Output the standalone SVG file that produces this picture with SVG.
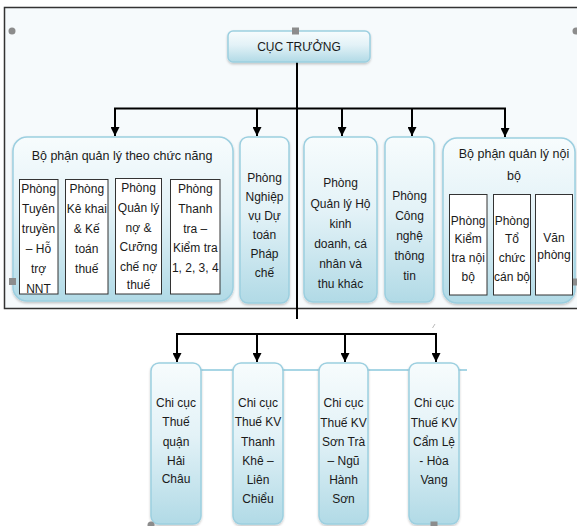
<svg xmlns="http://www.w3.org/2000/svg" width="577" height="526" viewBox="0 0 577 526">
<defs>
<linearGradient id="bg" x1="0" y1="0" x2="0" y2="1">
<stop offset="0" stop-color="#f7fcfd"/>
<stop offset="0.45" stop-color="#e3f2f7"/>
<stop offset="1" stop-color="#b1dae6"/>
</linearGradient>
<filter id="sh" x="-20%" y="-20%" width="140%" height="140%">
<feDropShadow dx="0" dy="1.5" stdDeviation="1.2" flood-color="#000" flood-opacity="0.22"/>
</filter>
<marker id="ah" viewBox="0 0 10 10" refX="10" refY="5" markerWidth="9" markerHeight="9" markerUnits="userSpaceOnUse" orient="auto">
<path d="M0,0 L10,5 L0,10 z" fill="#000"/>
</marker>
</defs>
<style>
.bx{fill:url(#bg);stroke:#9ccfe0;stroke-width:1.5;filter:url(#sh)}
.wb{fill:#fff;stroke:#333;stroke-width:1}
.t{font-family:"Liberation Sans",Arial,sans-serif;font-size:12px;fill:#1a1a1a;text-anchor:middle}
.tt{font-size:12.5px}
.c{fill:none;stroke:#000;stroke-width:2}
.a{fill:none;stroke:#000;stroke-width:2;marker-end:url(#ah)}
.h{fill:#8c8c8c}
</style>
<rect x="0" y="0" width="577" height="526" fill="#fff"/>
<rect x="4.5" y="7.5" width="600" height="301" fill="#f6fafc" stroke="#333" stroke-width="1.5"/>

<g id="connectors">
<line class="c" x1="297" y1="62" x2="297" y2="319"/>
<line class="c" x1="114" y1="108.5" x2="506" y2="108.5"/>
<line class="a" x1="115" y1="108.5" x2="115" y2="136"/>
<line class="a" x1="257" y1="108.5" x2="257" y2="136"/>
<line class="a" x1="342" y1="108.5" x2="342" y2="136"/>
<line class="a" x1="412" y1="108.5" x2="412" y2="136"/>
<line class="a" x1="505" y1="108.5" x2="505" y2="137"/>
<line class="c" x1="176" y1="334" x2="437" y2="334"/>
<line class="a" x1="177" y1="334" x2="177" y2="362"/>
<line class="a" x1="257" y1="334" x2="257" y2="362"/>
<line class="a" x1="345" y1="334" x2="345" y2="362"/>
<line class="a" x1="436" y1="334" x2="436" y2="362"/>
<line x1="201" y1="370" x2="467" y2="370" stroke="#a8d6e5" stroke-width="2"/>
<line x1="432.5" y1="328" x2="435" y2="324" stroke="#bbb" stroke-width="1"/>
</g>

<g id="cuc-truong">
<rect class="bx" x="228" y="31" width="142" height="31" rx="5"/>
<text class="t" x="299" y="50.5">CỤC TRƯỞNG</text>
</g>

<g id="bo-phan-chuc-nang">
<rect class="bx" x="13" y="137" width="220" height="164" rx="14"/>
<text class="t tt" x="122" y="159.5">Bộ phận quản lý theo chức năng</text>
</g>
<g id="p-tuyen-truyen">
<rect class="wb" x="19.5" y="179.5" width="38.5" height="114.5"/>
<text class="t"><tspan x="38.5" y="192.5">Phòng</tspan><tspan x="38.5" y="212.5">Tuyên</tspan><tspan x="38.5" y="232.5">truyền</tspan><tspan x="38.5" y="252.5">– Hỗ</tspan><tspan x="38.5" y="272.5">trợ</tspan><tspan x="38.5" y="293">NNT</tspan></text>
</g>
<g id="p-ke-khai">
<rect class="wb" x="65.5" y="179.5" width="42.5" height="114.5"/>
<text class="t"><tspan x="86.8" y="192.5">Phòng</tspan><tspan x="86.8" y="212.5">Kê khai</tspan><tspan x="86.8" y="233">&amp; Kế</tspan><tspan x="86.8" y="253">toán</tspan><tspan x="86.8" y="272.5">thuế</tspan></text>
</g>
<g id="p-quan-ly-no">
<rect class="wb" x="115.5" y="178.5" width="46" height="115.5"/>
<text class="t"><tspan x="138.5" y="191.5">Phòng</tspan><tspan x="138.5" y="212">Quản lý</tspan><tspan x="138.5" y="231.5">nợ &amp;</tspan><tspan x="138.5" y="251">Cưỡng</tspan><tspan x="138.5" y="270.5">chế nợ</tspan><tspan x="138.5" y="289">thuế</tspan></text>
</g>
<g id="p-thanh-tra">
<rect class="wb" x="170.5" y="179.5" width="49.5" height="114.5"/>
<text class="t"><tspan x="195.3" y="192.5">Phòng</tspan><tspan x="195.3" y="212.5">Thanh</tspan><tspan x="195.3" y="232.5">tra –</tspan><tspan x="195.3" y="251.5">Kiểm tra</tspan><tspan x="195.3" y="271.5">1, 2, 3, 4</tspan></text>
</g>

<g id="p-nghiep-vu">
<rect class="bx" x="240" y="137" width="49" height="166" rx="8"/>
<text class="t"><tspan x="264.5" y="181.5">Phòng</tspan><tspan x="264.5" y="200.5">Nghiệp</tspan><tspan x="264.5" y="219.5">vụ Dự</tspan><tspan x="264.5" y="238.5">toán</tspan><tspan x="264.5" y="258">Pháp</tspan><tspan x="264.5" y="277">chế</tspan></text>
</g>
<g id="p-quan-ly-ho">
<rect class="bx" x="304" y="137" width="73" height="165" rx="9"/>
<text class="t"><tspan x="340.5" y="186.5">Phòng</tspan><tspan x="340.5" y="207.5">Quản lý Hộ</tspan><tspan x="340.5" y="227.5">kinh</tspan><tspan x="340.5" y="247.5">doanh, cá</tspan><tspan x="340.5" y="268">nhân và</tspan><tspan x="340.5" y="288">thu khác</tspan></text>
</g>
<g id="p-cong-nghe">
<rect class="bx" x="385" y="137" width="49" height="165" rx="8"/>
<text class="t"><tspan x="409.5" y="199.5">Phòng</tspan><tspan x="409.5" y="220">Công</tspan><tspan x="409.5" y="240">nghệ</tspan><tspan x="409.5" y="260">thông</tspan><tspan x="409.5" y="280">tin</tspan></text>
</g>

<g id="bo-phan-noi-bo">
<rect class="bx" x="443" y="138" width="132" height="165" rx="14"/>
<text class="t tt"><tspan x="514" y="157.5">Bộ phận quản lý nội</tspan><tspan x="514" y="179.5">bộ</tspan></text>
</g>
<g id="p-kiem-tra-noi-bo">
<rect class="wb" x="449.5" y="194.5" width="37.5" height="100.5"/>
<text class="t"><tspan x="468.2" y="224.5">Phòng</tspan><tspan x="468.2" y="242.5">Kiểm</tspan><tspan x="468.2" y="262">tra nội</tspan><tspan x="468.2" y="281">bộ</tspan></text>
</g>
<g id="p-to-chuc">
<rect class="wb" x="493.5" y="194.5" width="37" height="100.5"/>
<text class="t"><tspan x="512" y="224.5">Phòng</tspan><tspan x="512" y="242.5">Tổ</tspan><tspan x="512" y="262">chức</tspan><tspan x="512" y="281">cán bộ</tspan></text>
</g>
<g id="p-van-phong">
<rect class="wb" x="535.5" y="194.5" width="37" height="100.5"/>
<text class="t"><tspan x="554" y="241.5">Văn</tspan><tspan x="554" y="258.5">phòng</tspan></text>
</g>

<g id="cc-hai-chau">
<rect class="bx" x="151" y="363" width="50" height="161" rx="8"/>
<text class="t"><tspan x="176" y="406.5">Chi cục</tspan><tspan x="176" y="426">Thuế</tspan><tspan x="176" y="445.5">quận</tspan><tspan x="176" y="464.5">Hải</tspan><tspan x="176" y="483">Châu</tspan></text>
</g>
<g id="cc-thanh-khe">
<rect class="bx" x="233" y="363" width="50" height="161" rx="8"/>
<text class="t"><tspan x="258" y="406.5">Chi cục</tspan><tspan x="258" y="426">Thuế KV</tspan><tspan x="258" y="445.5">Thanh</tspan><tspan x="258" y="464.5">Khê –</tspan><tspan x="258" y="483.5">Liên</tspan><tspan x="258" y="502.5">Chiểu</tspan></text>
</g>
<g id="cc-son-tra">
<rect class="bx" x="319" y="363" width="49" height="161" rx="8"/>
<text class="t"><tspan x="343.5" y="407">Chi cục</tspan><tspan x="343.5" y="426.5">Thuế KV</tspan><tspan x="343.5" y="446">Sơn Trà</tspan><tspan x="343.5" y="465">– Ngũ</tspan><tspan x="343.5" y="484">Hành</tspan><tspan x="343.5" y="502.5">Sơn</tspan></text>
</g>
<g id="cc-cam-le">
<rect class="bx" x="409" y="363" width="50" height="161" rx="8"/>
<text class="t"><tspan x="434" y="407">Chi cục</tspan><tspan x="434" y="426.5">Thuế KV</tspan><tspan x="434" y="446">Cẩm Lệ</tspan><tspan x="434" y="465">- Hòa</tspan><tspan x="434" y="484">Vang</tspan></text>
</g>

<circle class="h" cx="12" cy="31" r="3.5"/>
<circle class="h" cx="576" cy="31" r="3.5"/>
<rect class="h" x="292" y="27.5" width="7" height="7"/>
<rect class="h" x="9" y="278" width="7" height="7"/>
<rect class="h" x="573" y="278.5" width="7" height="7"/>
<circle class="h" cx="151" cy="525" r="3.5"/>
<rect class="h" x="430.5" y="521.5" width="7" height="7"/>
</svg>
